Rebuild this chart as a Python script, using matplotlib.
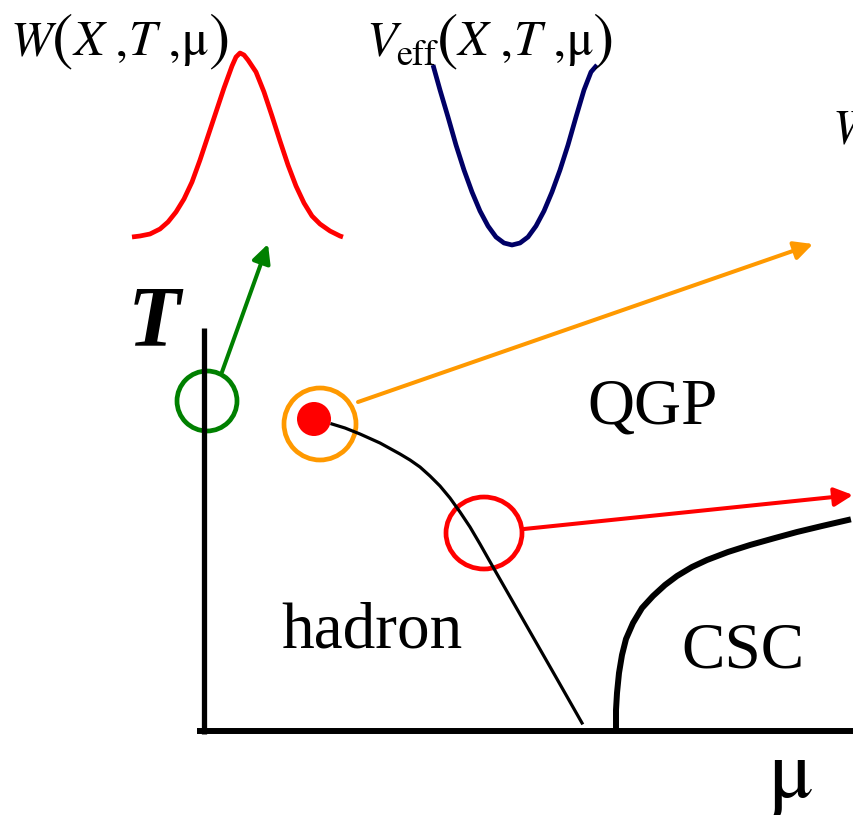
import matplotlib.pyplot as plt
from matplotlib.patches import Circle, Ellipse

plt.rcParams['font.family'] = ['Liberation Serif', 'DejaVu Serif']

# schematic coordinates (picture units, y grows downward)
crossover_mu = [332, 345, 360, 380, 400, 410, 420, 430, 440, 450, 460, 470, 480,
                493, 513, 533, 557, 582]
crossover_T = [424, 428, 434, 443, 454, 460, 467, 476, 486, 498, 512, 527, 544,
               567, 602, 637, 679, 723]

csc_mu = [616, 616, 617, 619, 622, 626, 633, 642, 653, 665, 677, 692, 707, 728,
          750, 775, 797, 822, 848]
csc_T = [728, 710, 693, 673, 655, 639, 623, 608, 596, 585, 576, 567, 560, 552,
         545, 538, 532, 526, 520]

# probability distribution W (gaussian-like sketch)
w_x = [132, 140, 150, 160, 168, 176, 184, 192, 200, 208, 216, 224, 232, 236, 240,
       244, 248, 256, 264, 272, 280, 288, 296, 304, 312, 320, 330, 340, 343]
w_y = [237, 236, 234, 229, 222, 212, 199, 182, 160, 136, 112, 88, 66, 57, 53,
       55, 60, 72, 92, 116, 141, 165, 186, 203, 216, 224, 231, 236, 237]

# effective potential V_eff (parabola sketch)
v_x = [433, 440, 448, 456, 464, 472, 480, 488, 496, 504, 512, 520, 528, 536,
       544, 552, 560, 568, 576, 584, 591, 597]
v_y = [65, 90, 117, 145, 170, 192, 211, 226, 237, 243, 245, 243, 237, 226,
       211, 192, 170, 145, 117, 90, 72, 65]

fig = plt.figure(figsize=(8.54, 8.15), dpi=100)
ax = fig.add_axes([0, 0, 1, 1])
ax.set_xlim(0, 854)
ax.set_ylim(815, 0)
ax.axis('off')
renderer = fig.canvas.get_renderer()


def pieces(x, y, parts):
    """draw (text, style, size, dy) parts one after another"""
    for s, style, size, dy in parts:
        t = ax.text(x, y + dy, s, family='STIXGeneral', fontstyle=style,
                    fontsize=size, ha='left', va='baseline')
        x += t.get_window_extent(renderer).width


ARGS = [('(', 'normal', 46, 2), ('X', 'italic', 36, 0), (' ,', 'normal', 36, 0),
        ('T', 'italic', 36, 0), (' ,', 'normal', 36, 0),
        ('μ', 'normal', 36, 0), (')', 'normal', 46, 2)]

# axes of the phase diagram
ax.plot([204, 204], [328, 734], color='black', lw=3.8, solid_capstyle='butt')
ax.plot([197, 854], [731, 731], color='black', lw=4.3, solid_capstyle='butt')
ax.text(154, 345, 'T', fontsize=62, fontweight='bold', fontstyle='italic',
        ha='center', va='baseline')
ax.text(790, 797, 'μ', fontsize=60, family='STIXGeneral', ha='center', va='baseline')

# phase boundaries
ax.plot(crossover_mu, crossover_T, color='black', lw=2.3)
ax.plot(csc_mu, csc_T, color='black', lw=4.3)

# region labels
ax.text(653, 423, 'QGP', fontsize=47, ha='center', va='baseline')
ax.text(372, 647, 'hadron', fontsize=47, ha='center', va='baseline')
ax.text(743, 668, 'CSC', fontsize=47, ha='center', va='baseline')

# circles and critical point
ax.add_patch(Circle((207, 401), 30, fill=False, ec='#008000', lw=3.4))
ax.add_patch(Circle((320, 424), 36, fill=False, ec='#ff9900', lw=3.4))
ax.add_patch(Circle((314, 419), 17, color='#ff0000', lw=0))
ax.add_patch(Ellipse((484, 533), 76, 72, fill=False, ec='#ff0000', lw=3.4))

# arrows
arrows = [((222, 372), (268, 244), '#008000'),
          ((358, 402), (813, 244), '#ff9900'),
          ((524, 529), (853, 495), '#ff0000')]
for start, tip, col in arrows:
    ax.annotate('', xy=tip, xytext=start,
                arrowprops=dict(arrowstyle='-|>', color=col, lw=2.9,
                                mutation_scale=28, shrinkA=0, shrinkB=0))

# sketches of W and V_eff
ax.plot(w_x, w_y, color='#ff0000', lw=3.4, solid_capstyle='butt')
ax.plot(v_x, v_y, color='#000066', lw=3.4, solid_capstyle='butt')

pieces(10, 55, [('W', 'italic', 36, 0)] + ARGS)
pieces(366, 55, [('V', 'italic', 36, 0), ('eff', 'normal', 26, 10)] + ARGS)
pieces(832, 143, [('W', 'italic', 36, 0)])

fig.savefig('out.png', dpi=100)
